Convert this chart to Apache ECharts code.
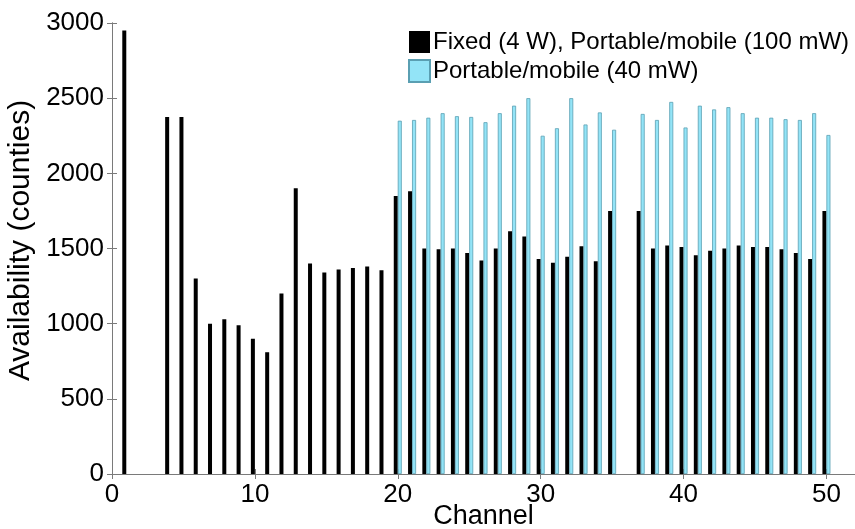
<!DOCTYPE html>
<html><head><meta charset="utf-8">
<script src="https://cdn.jsdelivr.net/npm/echarts@6/dist/echarts.min.js"></script>
<style>html,body{margin:0;padding:0;background:#fff;overflow:hidden}#c{width:855px;height:529px}</style>
</head><body><div id="c"></div>
<script>
const channels = [1,2,3,4,5,6,7,8,9,10,11,12,13,14,15,16,17,18,19,20,21,22,23,24,25,26,27,28,29,30,31,32,33,34,35,36,37,38,39,40,41,42,43,44,45,46,47,48,49,50];
const fixedValues = [2950,null,null,2375,2375,1300,1000,1030,990,900,810,1200,1900,1400,1340,1360,1370,1380,1355,
  1850,1880,1500,1495,1500,1470,1420,1500,1615,1580,1430,1405,1445,1515,1415,1750,null,
  1750,1500,1520,1510,1455,1485,1500,1520,1510,1510,1495,1470,1430,1750];
const portableValues = [null,null,null,null,null,null,null,null,null,null,null,null,null,null,null,null,null,null,null,
  2350,2355,2370,2400,2380,2375,2340,2400,2450,2500,2250,2300,2500,2325,2405,2290,null,
  2395,2355,2475,2305,2450,2425,2440,2400,2370,2370,2360,2355,2400,2255];
const seriesNames = ['Fixed (4 W), Portable/mobile (100 mW)', 'Portable/mobile (40 mW)'];
const xTicks = [0,10,20,30,40,50];
const yTicks = [0,500,1000,1500,2000,2500,3000];

const toPairs = vals => channels.map((c,i)=>[c, vals[i]]).filter(d => d[1] != null);
const font = '"Liberation Sans", Arial, Helvetica, sans-serif';
const axisColor = '#7a7a7a';

const chart = echarts.init(document.getElementById('c'), null, {renderer:'canvas'});
chart.setOption({
  animation: false,
  backgroundColor: '#fff',
  textStyle: {fontFamily: font, color: '#000'},
  grid: {left: 112, right: 0, top: 23, bottom: 55, containLabel: false, outerBoundsMode: 'none'},
  legend: {
    orient: 'vertical', left: 408, top: 30, padding: 0,
    itemWidth: 21, itemHeight: 22, itemGap: 5, icon: 'rect',
    textStyle: {fontSize: 24, fontFamily: font, color: '#000', padding: [0,0,0,-2]},
    data: seriesNames
  },
  xAxis: [{
    type: 'value', min: 0, max: 52, interval: 10, position: 'bottom',
    name: 'Channel', nameLocation: 'middle', nameGap: 29, nameMoveOverlap: false,
    nameTextStyle: {fontSize: 27, fontFamily: font, color: '#000', verticalAlign: 'top'},
    axisLine: {show: true, lineStyle: {color: axisColor}},
    axisTick: {inside: true, length: 5, lineStyle: {color: axisColor}, customValues: xTicks},
    axisLabel: {fontSize: 26, color: '#000', margin: 8, customValues: xTicks, formatter: v => String(v)},
    splitLine: {show: false}
  }, {
    type: 'value', min: 0, max: 52, interval: 10, position: 'top',
    axisLine: {show: true, lineStyle: {color: axisColor}},
    axisTick: {inside: true, length: 5, lineStyle: {color: axisColor}, customValues: xTicks},
    axisLabel: {show: false}, splitLine: {show: false}
  }],
  yAxis: [{
    type: 'value', min: 0, max: 3000, interval: 500, position: 'left',
    name: 'Availability (counties)', nameLocation: 'middle', nameGap: 71,
    nameTextStyle: {fontSize: 30, fontFamily: font, color: '#000', padding: [0,0,0,16]},
    axisLine: {show: true, lineStyle: {color: axisColor}},
    axisTick: {inside: true, length: 5, lineStyle: {color: axisColor}, customValues: yTicks},
    axisLabel: {fontSize: 26, color: '#000', margin: 8, customValues: yTicks, formatter: v => String(v)},
    splitLine: {show: false}
  }, {
    type: 'value', min: 0, max: 3000, interval: 500, position: 'right',
    axisLine: {show: true, lineStyle: {color: axisColor}},
    axisTick: {inside: true, length: 5, lineStyle: {color: axisColor}, customValues: yTicks},
    axisLabel: {show: false}, splitLine: {show: false}
  }],
  series: [{
    name: seriesNames[0], type: 'bar', xAxisIndex: 0, yAxisIndex: 0,
    barWidth: 4, barGap: '0%',
    itemStyle: {color: '#000', borderColor: '#000', borderWidth: 0},
    data: toPairs(fixedValues)
  }, {
    name: seriesNames[1], type: 'bar', xAxisIndex: 0, yAxisIndex: 0,
    barWidth: 4, barGap: '0%',
    itemStyle: {color: '#93e4f7', borderColor: '#5a9fb2', borderWidth: 0.8},
    data: toPairs(portableValues)
  }]
});
</script>
</body></html>
